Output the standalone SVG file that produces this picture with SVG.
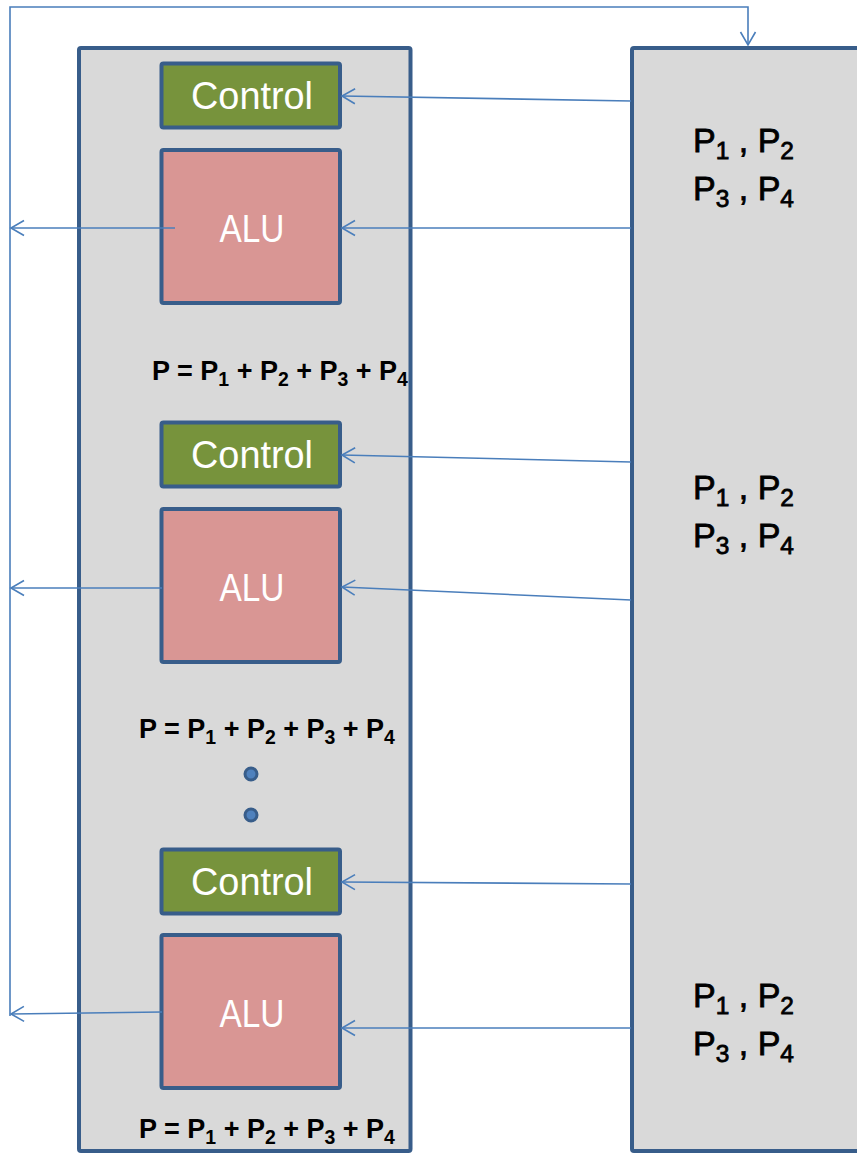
<svg xmlns="http://www.w3.org/2000/svg" width="857" height="1154" viewBox="0 0 857 1154">
  <style>
    .panel { fill: #d9d9d9; stroke: #385d8a; stroke-width: 4; }
    .ctrl { fill: #77933c; stroke: #385d8a; stroke-width: 4; }
    .alu { fill: #d99694; stroke: #385d8a; stroke-width: 4; }
    .lbl { font-family: "Liberation Sans", Arial, sans-serif; font-size: 38px; fill: #ffffff; text-anchor: middle; }
    .eq { font-family: "Liberation Sans", Arial, sans-serif; font-size: 27px; font-weight: bold; fill: #000000; }
    .reg { font-family: "Liberation Sans", Arial, sans-serif; font-size: 34px; fill: #000000; stroke: #000000; stroke-width: 0.8; }
    .sub { font-size: 72%; }
    .wire { fill: none; stroke: #4a7ebb; stroke-width: 1.6; }
    .dot { fill: #4f81bd; stroke: #385d8a; stroke-width: 3; }
  </style>
  <defs>
    <marker id="head" markerUnits="userSpaceOnUse" markerWidth="20" markerHeight="20" viewBox="-14 -10 16 20" refX="0" refY="0" orient="auto">
      <path d="M -13 -7.5 L 0 0 L -13 7.5" fill="none" stroke="#4a7ebb" stroke-width="1.6"/>
    </marker>
  </defs>

  <!-- outer panels -->
  <g id="processor-panel">
    <rect class="panel" x="79" y="48" width="331.5" height="1103" rx="2"/>
  </g>
  <g id="memory-panel">
    <rect class="panel" x="632" y="48" width="240" height="1103" rx="2"/>
    <text class="reg" x="693" y="152">P<tspan class="sub" dy="7">1</tspan><tspan dy="-7"> , P</tspan><tspan class="sub" dy="7">2</tspan></text>
    <text class="reg" x="693" y="200">P<tspan class="sub" dy="7">3</tspan><tspan dy="-7"> , P</tspan><tspan class="sub" dy="7">4</tspan></text>
    <text class="reg" x="693" y="499">P<tspan class="sub" dy="7">1</tspan><tspan dy="-7"> , P</tspan><tspan class="sub" dy="7">2</tspan></text>
    <text class="reg" x="693" y="547">P<tspan class="sub" dy="7">3</tspan><tspan dy="-7"> , P</tspan><tspan class="sub" dy="7">4</tspan></text>
    <text class="reg" x="693" y="1007">P<tspan class="sub" dy="7">1</tspan><tspan dy="-7"> , P</tspan><tspan class="sub" dy="7">2</tspan></text>
    <text class="reg" x="693" y="1055">P<tspan class="sub" dy="7">3</tspan><tspan dy="-7"> , P</tspan><tspan class="sub" dy="7">4</tspan></text>
  </g>

  <!-- stage 1 -->
  <g id="control-1">
    <rect class="ctrl" x="161.5" y="63.5" width="178.5" height="64" rx="2"/>
    <text class="lbl" x="252" y="109" textLength="122" lengthAdjust="spacingAndGlyphs">Control</text>
  </g>
  <g id="alu-1">
    <rect class="alu" x="161.5" y="150" width="178.5" height="153" rx="2"/>
    <text class="lbl" x="252" y="242" textLength="65" lengthAdjust="spacingAndGlyphs">ALU</text>
  </g>
  <g id="sum-1">
    <text class="eq" x="152" y="380">P = P<tspan class="sub" dy="6">1</tspan><tspan dy="-6"> + P</tspan><tspan class="sub" dy="6">2</tspan><tspan dy="-6"> + P</tspan><tspan class="sub" dy="6">3</tspan><tspan dy="-6"> + P</tspan><tspan class="sub" dy="6">4</tspan></text>
  </g>

  <!-- stage 2 -->
  <g id="control-2">
    <rect class="ctrl" x="161.5" y="422.5" width="178.5" height="64" rx="2"/>
    <text class="lbl" x="252" y="468" textLength="122" lengthAdjust="spacingAndGlyphs">Control</text>
  </g>
  <g id="alu-2">
    <rect class="alu" x="161.5" y="509" width="178.5" height="153" rx="2"/>
    <text class="lbl" x="252" y="601" textLength="65" lengthAdjust="spacingAndGlyphs">ALU</text>
  </g>
  <g id="sum-2">
    <text class="eq" x="139" y="738">P = P<tspan class="sub" dy="6">1</tspan><tspan dy="-6"> + P</tspan><tspan class="sub" dy="6">2</tspan><tspan dy="-6"> + P</tspan><tspan class="sub" dy="6">3</tspan><tspan dy="-6"> + P</tspan><tspan class="sub" dy="6">4</tspan></text>
  </g>
  <g id="ellipsis">
    <circle class="dot" cx="251" cy="774" r="6"/>
    <circle class="dot" cx="251" cy="815" r="6"/>
  </g>

  <!-- stage n -->
  <g id="control-3">
    <rect class="ctrl" x="161.5" y="849.5" width="178.5" height="64" rx="2"/>
    <text class="lbl" x="252" y="895" textLength="122" lengthAdjust="spacingAndGlyphs">Control</text>
  </g>
  <g id="alu-3">
    <rect class="alu" x="161.5" y="935" width="178.5" height="153" rx="2"/>
    <text class="lbl" x="252" y="1027" textLength="65" lengthAdjust="spacingAndGlyphs">ALU</text>
  </g>
  <g id="sum-3">
    <text class="eq" x="139" y="1138">P = P<tspan class="sub" dy="6">1</tspan><tspan dy="-6"> + P</tspan><tspan class="sub" dy="6">2</tspan><tspan dy="-6"> + P</tspan><tspan class="sub" dy="6">3</tspan><tspan dy="-6"> + P</tspan><tspan class="sub" dy="6">4</tspan></text>
  </g>

  <!-- connectors -->
  <g id="connectors">
    <!-- feedback bus back to memory -->
    <path class="wire" d="M 10 1016 L 10 7 L 748 7 L 748 45" marker-end="url(#head)"/>
    <!-- memory to control / ALU -->
    <path class="wire" d="M 631 101 L 342 96" marker-end="url(#head)"/>
    <path class="wire" d="M 631 228 L 342 228" marker-end="url(#head)"/>
    <path class="wire" d="M 631 462 L 342 455" marker-end="url(#head)"/>
    <path class="wire" d="M 631 600 L 342 587" marker-end="url(#head)"/>
    <path class="wire" d="M 631 884 L 342 882" marker-end="url(#head)"/>
    <path class="wire" d="M 631 1028 L 342 1028" marker-end="url(#head)"/>
    <!-- ALU results to bus -->
    <path class="wire" d="M 175 228 L 11 228" marker-end="url(#head)"/>
    <path class="wire" d="M 162 588 L 11 588" marker-end="url(#head)"/>
    <path class="wire" d="M 162 1012 L 11 1014" marker-end="url(#head)"/>
  </g>
</svg>
